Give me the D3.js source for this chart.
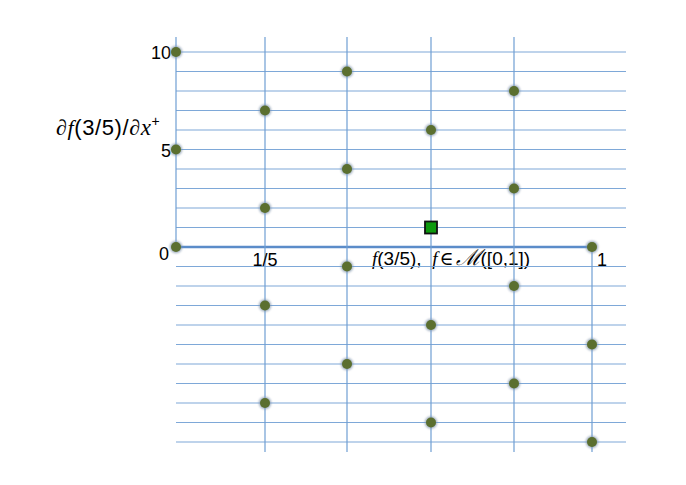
<!DOCTYPE html>
<html>
<head>
<meta charset="utf-8">
<script src="https://cdn.jsdelivr.net/npm/d3@7"></script>
<style>
  body { margin: 0; background: #fff; }
  text { font-family: "Liberation Sans", Arial, sans-serif; }
</style>
</head>
<body>
<div id="chart-area"></div>
<script>
// x positions of the columns and the dots in each column
var columns = [0, 0.2, 0.4, 0.6, 0.8, 1];
var dotsByColumn = [
  [10, 5, 0],
  [7, 2, -3, -8],
  [9, 4, -1, -6],
  [6, -4, -9],
  [8, 3, -2, -7],
  [0, -5, -10]
];
var squarePoint = [0.6, 1];
var yTicks = [10, 5, 0];
var xTickLabels = [{ v: 0.2, t: '1/5' }, { v: 1, t: '1' }];
var gridValues = d3.range(-10, 11);

var width = 686, height = 485;
var svg = d3.select('#chart-area').append('svg')
  .attr('width', width)
  .attr('height', height);

// scales
var x = d3.scaleLinear().domain(columns).range([176, 265, 347, 431, 514, 592]);
var y = d3.scaleLinear().domain([-10, 10]).range([442, 52]);

// texts under the grid
svg.append('text')
  .attr('x', 372).attr('y', 265)
  .attr('font-size', 19)
  .html('<tspan font-family="Liberation Serif" font-style="italic">f</tspan>(3/5),&#160;&#160;<tspan font-family="Liberation Serif" font-style="italic">f</tspan><tspan font-family="DejaVu Serif" dx="2">∈</tspan><tspan font-family="DejaVu Serif" font-style="italic" font-size="22" dx="2">ℳ</tspan>([0,1])');

// horizontal grid lines
svg.append('g').selectAll('line')
  .data(gridValues)
  .enter().append('line')
  .attr('x1', x(0))
  .attr('x2', d => d == 0 ? x(1) : 626)
  .attr('y1', d => y(d))
  .attr('y2', d => y(d))
  .attr('stroke', d => d == 0 ? '#5b8cc9' : '#7ea8d8')
  .attr('stroke-width', d => d == 0 ? 2.5 : 1.2);

// vertical lines
svg.append('g').selectAll('line')
  .data(columns)
  .enter().append('line')
  .attr('x1', d => x(d))
  .attr('x2', d => x(d))
  .attr('y1', d => d == 1 ? y(0) : 37)
  .attr('y2', d => d == 0 ? y(0) : 452)
  .attr('stroke', '#6f9ed3')
  .attr('stroke-width', 1.2);

// y tick labels
svg.append('g').selectAll('text')
  .data(yTicks)
  .enter().append('text')
  .attr('x', d => d == 0 ? 169 : 171)
  .attr('y', d => y(d) + (d == 0 ? 13 : 7))
  .attr('text-anchor', 'end')
  .attr('font-size', 18)
  .text(d => d);

// x tick labels
svg.append('g').selectAll('text')
  .data(xTickLabels)
  .enter().append('text')
  .attr('x', d => d.v == 1 ? x(d.v) + 5 : x(d.v))
  .attr('y', y(0) + 19)
  .attr('text-anchor', d => d.v == 1 ? 'start' : 'middle')
  .attr('font-size', 18)
  .text(d => d.t);

// y axis title
svg.append('text')
  .attr('x', 56).attr('y', 135)
  .attr('font-size', 22)
  .attr('letter-spacing', 0.6)
  .html('<tspan font-family="Liberation Serif">∂</tspan><tspan font-family="Liberation Serif" font-style="italic">f</tspan>(3/5)/<tspan font-family="Liberation Serif">∂</tspan><tspan font-family="Liberation Serif" font-style="italic" font-size="23">x</tspan><tspan font-size="14" dy="-9">+</tspan>');

// dots
var dots = [];
columns.forEach((c, i) => {
  dotsByColumn[i].forEach(v => dots.push({ x: c, y: v }));
});

var defs = svg.append('defs');
var blur = defs.append('filter').attr('id', 'glow')
  .attr('x', '-50%').attr('y', '-50%').attr('width', '200%').attr('height', '200%');
blur.append('feGaussianBlur').attr('stdDeviation', 0.8);

svg.append('g').selectAll('circle.halo')
  .data(dots)
  .enter().append('circle')
  .attr('cx', d => x(d.x))
  .attr('cy', d => y(d.y))
  .attr('r', 6.2)
  .attr('fill', '#7a8fa8')
  .attr('opacity', 0.7)
  .attr('filter', 'url(#glow)');

svg.append('g').selectAll('circle.dot')
  .data(dots)
  .enter().append('circle')
  .attr('cx', d => x(d.x))
  .attr('cy', d => y(d.y))
  .attr('r', 5)
  .attr('fill', '#5b6f2f');

// the green square
svg.append('rect')
  .attr('x', x(squarePoint[0]) - 6)
  .attr('y', y(squarePoint[1]) - 6)
  .attr('width', 12)
  .attr('height', 12)
  .attr('fill', '#0e9a0e')
  .attr('stroke', '#111')
  .attr('stroke-width', 1.8);
</script>
</body>
</html>
